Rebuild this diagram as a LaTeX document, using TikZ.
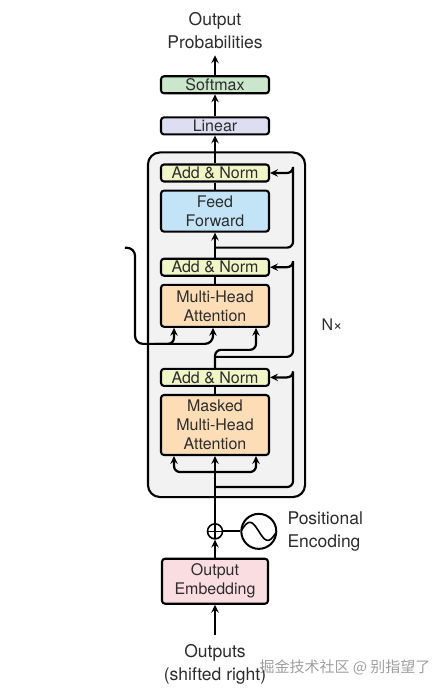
\documentclass[tikz,border=0pt]{standalone}
\usepackage{fontspec}
\setmainfont{TeX Gyre Heros}
\newfontfamily\cjkfont{Noto Sans CJK SC}
\usetikzlibrary{positioning,fit,backgrounds,arrows.meta}

\definecolor{txtgray}{RGB}{45,45,45}
\definecolor{softcol}{RGB}{202,231,203}
\definecolor{lincol}{RGB}{221,222,242}
\definecolor{normcol}{RGB}{241,246,198}
\definecolor{ffcol}{RGB}{194,228,246}
\definecolor{attcol}{RGB}{252,221,182}
\definecolor{embcol}{RGB}{249,221,225}
\definecolor{framecol}{RGB}{242,242,242}

\tikzset{
  block/.style={draw, line width=2.1pt, rounded corners=3pt, minimum width=108pt,
    inner sep=0pt, align=center, text=txtgray, font=\fontsize{16}{19}\selectfont},
  addnorm/.style={block, fill=normcol, minimum height=17pt},
  attn/.style={block, fill=attcol},
  ffwd/.style={block, fill=ffcol},
  linbox/.style={block, fill=lincol, minimum height=17pt},
  softbox/.style={block, fill=softcol, minimum height=17pt},
  embbox/.style={block, fill=embcol, minimum width=106pt, minimum height=45pt},
  lbl/.style={inner sep=0pt, align=center, text=txtgray, font=\fontsize{17.5}{23}\selectfont},
  frame/.style={draw, line width=2.1pt, rounded corners=12pt, fill=framecol, inner sep=0pt},
  wire/.style={line width=2.2pt},
  arr/.style={wire, -{Stealth[length=8pt,width=7.5pt,inset=3pt]}},
  roundwire/.style={rounded corners=6pt},
  plus/.style={circle, draw, line width=1.6pt, minimum size=15pt, inner sep=0pt,
    path picture={\draw[line width=1.3pt] (path picture bounding box.north) -- (path picture bounding box.south)
      (path picture bounding box.west) -- (path picture bounding box.east);}},
  wave/.style={circle, draw, line width=2pt, minimum size=35pt, inner sep=0pt,
    path picture={\draw[line width=1.6pt, shift={(path picture bounding box.center)}]
      plot[domain=-1:1, samples=30, smooth] ({18*\x}, {-9*sin(180*\x)});}},
}

\begin{document}
\begin{tikzpicture}[x=1pt, y=1pt]
  \useasboundingbox (0,0) rectangle (442,-692);

  % Define nodes
  \node[attn, minimum height=60pt] (mmha) at (215,-425) {Masked\\Multi-Head\\Attention};
  \node[addnorm, above=7pt of mmha] (an1) {Add \& Norm};
  \node[attn, minimum height=42pt, above=40pt of an1] (mha) {Multi-Head\\Attention};
  \node[addnorm, above=7pt of mha] (an2) {Add \& Norm};
  \node[ffwd, minimum height=41pt, above=25pt of an2] (ff) {Feed\\Forward};
  \node[addnorm, above=7pt of ff] (an3) {Add \& Norm};
  \node[linbox, above=28pt of an3] (linear) {Linear};
  \node[softbox, above=22pt of linear] (softmax) {Softmax};
  \node[lbl, above=26pt of softmax] (probs) {Output\\Probabilities};

  \node[plus, below=67pt of mmha] (sum) {};
  \node[wave, right=17pt of sum] (sine) {};
  \node[lbl, align=left, right=10pt of sine] (posenc) {Positional\\Encoding};
  \node[embbox, below=18pt of sum] (emb) {Output\\Embedding};
  \node[lbl, below=39pt of emb] (outs) {Outputs\\(shifted right)};

  % Decoder frame
  \coordinate (ftl) at ([shift={(-12pt,11pt)}]an3.north west);
  \coordinate (fbr) at ([shift={(35pt,-41pt)}]mmha.south east);
  \begin{scope}[on background layer]
    \node[frame, fit=(ftl)(fbr)] (frame) {};
  \end{scope}
  \node[text=txtgray, font=\fontsize{16}{16}\selectfont, right=12pt of frame] (nx) {N×};

  % Connect the nodes
  \draw[arr] ([yshift=9pt]outs.north) -- (emb.south);
  \draw[arr] (emb.north) -- (sum.south);
  \draw[wire] (sum.east) -- (sine.west);
  \draw[arr] (sum.north) -- (mmha.south);
  \draw[arr, roundwire] ([yshift=-16pt]mmha.south) -| ([xshift=-41pt]mmha.south);
  \draw[arr, roundwire] ([yshift=-16pt]mmha.south) -| ([xshift=41pt]mmha.south);
  \draw[arr, roundwire] ([yshift=-31pt]mmha.south) -| ([xshift=23pt]an1.east) |- (an1.east);
  \draw[wire] (mmha.north) -- (an1.south);

  \draw[arr, roundwire] (an1.north) -- ++(0,18pt) -| ([xshift=41pt]mha.south);
  \draw[arr, roundwire] ([yshift=11pt]an1.north) -| ([xshift=23pt]an2.east) |- (an2.east);
  \coordinate (encin) at ([shift={(-35pt,58pt)}]mha.west);
  \draw[arr, rounded corners=8pt] (encin) -| ([shift={(-80pt,-16pt)}]mha.south) -| ([xshift=-2pt]mha.south);
  \draw[arr, roundwire] ([shift={(-60pt,-16pt)}]mha.south) -| ([xshift=-41pt]mha.south);
  \draw[wire] (mha.north) -- (an2.south);

  \draw[arr] (an2.north) -- (ff.south);
  \draw[arr, roundwire] ([yshift=10pt]an2.north) -| ([xshift=23pt]an3.east) |- (an3.east);
  \draw[wire] (ff.north) -- (an3.south);

  \draw[arr] (an3.north) -- (linear.south);
  \draw[arr] (linear.north) -- (softmax.south);
  \draw[arr] (softmax.north) -- ([yshift=-6pt]probs.south);

  % Watermark
  \node[anchor=west, text=gray!75, font=\cjkfont\fontsize{15}{15}\selectfont] (wm) at (256,-667) {掘金技术社区 @ 别指望了};
\end{tikzpicture}
\end{document}
